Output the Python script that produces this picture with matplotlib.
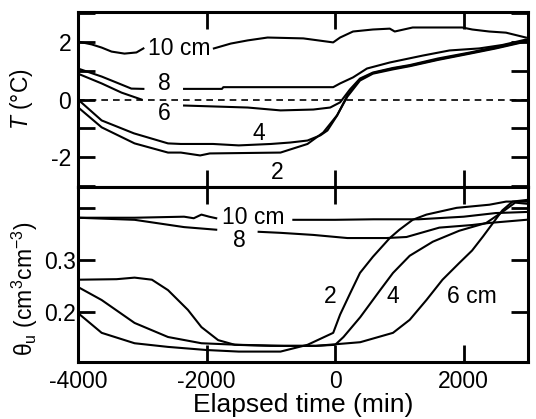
import numpy as np
import matplotlib
matplotlib.use("Agg")
import matplotlib.pyplot as plt

plt.rcParams['font.family'] = ['Liberation Sans', 'DejaVu Sans']
plt.rcParams['mathtext.fontset'] = 'custom'
plt.rcParams['mathtext.rm'] = 'Liberation Sans'
plt.rcParams['mathtext.it'] = 'Liberation Sans:italic'
plt.rcParams['axes.unicode_minus'] = False

nan = np.nan

# ---- upper panel: soil temperature (deg C) ----
t10_x = [-4000, -3787, -3632, -3478, -3277, -3091, -2983, -2900, -1886, -1623, -1360, -1051,
         -495, -31, 77, 278, 587, 850, 927, 1206, 1978, 2133, 2396, 2658, 2967]
t10_y = [2.02, 1.92, 1.81, 1.67, 1.60, 1.64, 1.78, nan, 1.78, 1.95, 2.06, 2.16,
         2.13, 1.99, 2.16, 2.37, 2.44, 2.47, 2.37, 2.51, 2.51, 2.44, 2.37, 2.33, 2.16]

t8_x = [-4000, -3632, -3400, -3170, -2983, -2700, -2350, -1760, -1740, -30, 77, 278, 495,
        850, 1360, 1780, 2240, 2600, 2970]
t8_y = [1.08, 0.80, 0.59, 0.38, 0.37, nan, 0.37, 0.37, 0.43, 0.43, 0.56, 0.77, 1.08,
        1.29, 1.53, 1.71, 1.78, 1.90, 2.09]

t6_x = [-4000, -3632, -3323, -3014, -2700, -2350, -1360, -850, -340, -77, 77, 230, 386,
        587, 900, 1160, 1600, 2100, 2500, 2970]
t6_y = [0.90, 0.56, 0.24, 0.00, nan, -0.21, -0.28, -0.38, -0.35, -0.28, -0.10, 0.35, 0.73,
        0.94, 1.10, 1.20, 1.43, 1.64, 1.83, 2.06]

t4_x = [-4000, -3632, -3130, -2600, -2400, -1900, -1500, -1000, -700, -430, -230, -120,
        30, 190, 386, 587, 900, 1160, 1600, 2100, 2500, 2970]
t4_y = [0.00, -0.73, -1.18, -1.53, -1.55, -1.55, -1.60, -1.55, -1.50, -1.43, -1.25, -1.08,
        -0.56, 0.14, 0.70, 0.92, 1.08, 1.18, 1.40, 1.62, 1.80, 2.04]

t2_x = [-4000, -3632, -3120, -2600, -2400, -2100, -1950, -850, -430, -185, 30, 190, 386,
        587, 900, 1160, 1600, 2100, 2500, 2970]
t2_y = [-0.27, -0.97, -1.53, -1.85, -1.85, -1.95, -1.88, -1.85, -1.55, -1.15, -0.55, 0.10,
        0.66, 0.90, 1.05, 1.16, 1.38, 1.60, 1.78, 2.02]

# ---- lower panel: unfrozen water content ----
w10_x = [-4000, -3120, -2350, -2200, -2080, -1960, -1850, -1700, -650, 0, 600, 1300,
         2000, 2500, 2970]
w10_y = [0.381, 0.381, 0.383, 0.380, 0.387, 0.383, 0.380, nan, 0.377, 0.377, 0.378, 0.378,
         0.383, 0.390, 0.392]

w8_x = [-4000, -3120, -2350, -1850, -1500, -1190, -850, -340, 190, 800, 1110, 1620, 2130,
        2400, 2970]
w8_y = [0.381, 0.377, 0.363, 0.358, nan, 0.354, 0.352, 0.348, 0.342, 0.342, 0.344, 0.362,
        0.367, 0.371, 0.377]

w2_x = [-4000, -3632, -3120, -2600, -2000, -1500, -850, -430, -30, 77, 230, 386, 587, 850,
        1000, 1206, 1420, 1890, 2400, 2660, 2970]
w2_y = [0.198, 0.160, 0.140, 0.133, 0.127, 0.124, 0.124, 0.137, 0.160, 0.195, 0.235, 0.275,
        0.306, 0.342, 0.358, 0.377, 0.387, 0.400, 0.406, 0.412, 0.412]

w4_x = [-4000, -3632, -3120, -2600, -2080, -1500, -800, -300, 0, 130, 390, 700, 900, 1160,
        1520, 1930, 2350, 2600, 2800, 2970]
w4_y = [0.248, 0.223, 0.179, 0.152, 0.140, 0.137, 0.135, 0.135, 0.137, 0.152, 0.190, 0.242,
        0.275, 0.308, 0.335, 0.356, 0.371, 0.392, 0.410, 0.408]

w6_x = [-4000, -3400, -3120, -2850, -2600, -2290, -2080, -1820, -1560, -1000, -300, 0, 390,
        900, 1160, 1420, 1670, 1930, 2130, 2300, 2450, 2600, 2760, 2970]
w6_y = [0.262, 0.263, 0.266, 0.262, 0.242, 0.204, 0.171, 0.146, 0.137, 0.135, 0.135, 0.138,
        0.142, 0.160, 0.185, 0.223, 0.262, 0.294, 0.318, 0.345, 0.370, 0.395, 0.412, 0.415]

# text labels: (text, x, y)
upper_labels = [("10 cm", -2420, 1.78), ("8", -2660, 0.56), ("6", -2660, -0.49),
                ("4", -1190, -1.18), ("2", -900, -2.55)]
lower_labels = [("10 cm", -1267, 0.381), ("8", -1484, 0.338), ("2", -77, 0.229),
                ("4", 900, 0.229), ("6 cm", 2120, 0.229)]

fig = plt.figure(figsize=(5.36, 4.19), dpi=100)
L, R = 78 / 536, 528 / 536
ax1 = fig.add_axes([L, 1 - 187 / 419, R - L, (187 - 12) / 419])
ax2 = fig.add_axes([L, 1 - 362 / 419, R - L, (362 - 187) / 419])

lw = 1.5
for xs, ys in [(t10_x, t10_y), (t8_x, t8_y), (t6_x, t6_y), (t4_x, t4_y), (t2_x, t2_y)]:
    ax1.plot(xs, ys, color='black', lw=lw)
ax1.axhline(0, color='black', lw=1.2, ls=(0, (4, 3)))
for txt, x, y in upper_labels:
    ax1.text(x, y, txt, fontsize=16.5, ha='center', va='center')

for xs, ys in [(w10_x, w10_y), (w8_x, w8_y), (w2_x, w2_y), (w4_x, w4_y), (w6_x, w6_y)]:
    ax2.plot(xs, ys, color='black', lw=lw)
for txt, x, y in lower_labels:
    ax2.text(x, y, txt, fontsize=16.5, ha='center', va='center')

for ax in (ax1, ax2):
    ax.set_xlim(-4000, 3000)
    ax.set_xticks([-4000, -2000, 0, 2000])
    for s in ax.spines.values():
        s.set_linewidth(2.2)
    ax.tick_params(direction='in', length=12, width=2, top=True, right=True,
                   labelsize=16.5)

ax1.set_ylim(-3.05, 3.05)
ax1.set_yticks([-3, -2, -1, 0, 1, 2, 3])
ax1.set_yticklabels(['', '-2', '', '0', '', '2', ''])
ax1.tick_params(axis='x', labelbottom=False)
ax1.tick_params(axis='y', pad=5)
ax1.set_ylabel(r'$T$ (°C)', fontsize=16.5)
ax1.yaxis.set_label_coords(-0.095, 0.5)

ax2.set_ylim(0.104, 0.44)
ax2.set_yticks([0.2, 0.3, 0.4])
ax2.set_yticklabels(['0.2', '0.3', ''])
ax2.tick_params(axis='y', pad=1.5)
ax2.tick_params(axis='x', pad=6)
ax2.set_ylabel(r'θ$_{\rm u}$ (cm$^3$cm$^{-3}$)', fontsize=16.5)
ax2.yaxis.set_label_coords(-0.085, 0.42)
ax2.set_xlabel('Elapsed time (min)', fontsize=19, labelpad=0)

fig.savefig('out.png', dpi=100)
